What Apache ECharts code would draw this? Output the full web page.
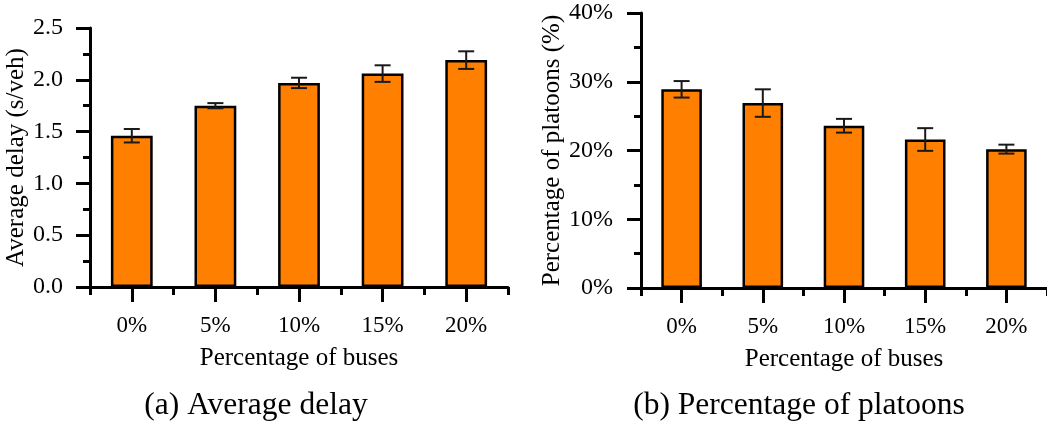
<!DOCTYPE html>
<html>
<head>
<meta charset="utf-8">
<script src="https://cdn.jsdelivr.net/npm/echarts@6/dist/echarts.min.js"></script>
<style>
  html, body { margin: 0; padding: 0; background: #fff; }
  #chart { width: 1047px; height: 425px; }
</style>
</head>
<body>
<div id="chart"></div>
<script>
// Share of buses in traffic (x categories for both panels)
const categories = ['0%', '5%', '10%', '15%', '20%'];

// Panel (a): average delay, s/veh, with half-width of error bars
const delayMean = [1.46, 1.75, 1.97, 2.06, 2.19];
const delayErr  = [0.065, 0.025, 0.05, 0.08, 0.085];

// Panel (b): percentage of platoons, %, with half-width of error bars
const platoonMean = [28.9, 26.9, 23.6, 21.6, 20.2];
const platoonErr  = [1.2, 2.0, 1.0, 1.65, 0.65];

const captions = ['(a) Average delay', '(b) Percentage of platoons'];

const FONT = '"Liberation Serif", "Times New Roman", serif';
const BAR = '#FF8000';
const INK = '#000';

function errData(mean, err) {
  return mean.map((m, i) => [i, m - err[i], m + err[i]]);
}

function renderErr(params, api) {
  const i = api.value(0);
  const lo = api.coord([i, api.value(1)]);
  const hi = api.coord([i, api.value(2)]);
  const half = 8;
  const style = { stroke: '#1a1a1a', lineWidth: 2 };
  return {
    type: 'group',
    children: [
      { type: 'line', shape: { x1: hi[0], y1: hi[1], x2: lo[0], y2: lo[1] }, style },
      { type: 'line', shape: { x1: hi[0] - half, y1: hi[1], x2: hi[0] + half, y2: hi[1] }, style },
      { type: 'line', shape: { x1: lo[0] - half, y1: lo[1], x2: lo[0] + half, y2: lo[1] }, style }
    ]
  };
}

function mainX(gridIndex) {
  return {
    type: 'category', gridIndex, data: categories, position: 'bottom',
    name: 'Percentage of buses', nameLocation: 'middle', nameGap: 59,
    nameTextStyle: { fontFamily: FONT, fontSize: 25, color: INK },
    axisLine: { show: true, lineStyle: { color: INK, width: 3 } },
    axisTick: { show: true, alignWithLabel: true, length: 15, lineStyle: { color: INK, width: 3 } },
    axisLabel: { fontFamily: FONT, fontSize: 23, color: INK, margin: 27 },
    splitLine: { show: false }
  };
}

// Shorter ticks on the category boundaries
function boundaryX(gridIndex) {
  return {
    type: 'category', gridIndex, data: categories, position: 'bottom',
    axisLine: { show: false },
    axisTick: { show: true, alignWithLabel: false, length: 8, lineStyle: { color: INK, width: 3 } },
    axisLabel: { show: false },
    splitLine: { show: false }
  };
}

function valueY(gridIndex, max, interval, name, gap, margin, fmt) {
  return {
    type: 'value', gridIndex, min: 0, max, interval,
    name, nameLocation: 'middle', nameGap: gap,
    nameTextStyle: { fontFamily: FONT, fontSize: 25, color: INK },
    axisLine: { show: true, lineStyle: { color: INK, width: 3 } },
    axisTick: { show: true, length: 14, lineStyle: { color: INK, width: 3 } },
    minorTick: { show: true, splitNumber: 2, length: 7, lineStyle: { color: INK, width: 3 } },
    axisLabel: { fontFamily: FONT, fontSize: 24, color: INK, margin, formatter: fmt },
    splitLine: { show: false },
    minorSplitLine: { show: false }
  };
}

const chart = echarts.init(document.getElementById('chart'));
chart.setOption({
  animation: false,
  backgroundColor: '#fff',
  grid: [
    { left: 90, top: 28, width: 418, height: 259 },
    { left: 641, top: 13, width: 406, height: 275 }
  ],
  xAxis: [mainX(0), boundaryX(0), mainX(1), boundaryX(1)],
  yAxis: [
    valueY(0, 2.5, 0.5, 'Average delay (s/veh)', 60, 27, v => v.toFixed(1)),
    valueY(1, 40, 10, 'Percentage of platoons (%)', 76, 28, v => v + '%')
  ],
  series: [
    {
      type: 'bar', xAxisIndex: 0, yAxisIndex: 0, data: delayMean, barWidth: '50%',
      itemStyle: { color: BAR, borderColor: INK, borderWidth: 2.5 }
    },
    {
      type: 'custom', xAxisIndex: 0, yAxisIndex: 0, z: 5,
      data: errData(delayMean, delayErr), encode: { x: 0, y: [1, 2] },
      renderItem: renderErr
    },
    {
      type: 'bar', xAxisIndex: 2, yAxisIndex: 1, data: platoonMean, barWidth: '50%',
      itemStyle: { color: BAR, borderColor: INK, borderWidth: 2.5 }
    },
    {
      type: 'custom', xAxisIndex: 2, yAxisIndex: 1, z: 5,
      data: errData(platoonMean, platoonErr), encode: { x: 0, y: [1, 2] },
      renderItem: renderErr
    }
  ],
  graphic: [
    { type: 'text', x: 256, y: 406, style: { text: captions[0], font: '31.5px ' + FONT, fill: INK, align: 'center', verticalAlign: 'middle' } },
    { type: 'text', x: 799, y: 406, style: { text: captions[1], font: '31.5px ' + FONT, fill: INK, align: 'center', verticalAlign: 'middle' } }
  ]
});
</script>
</body>
</html>
